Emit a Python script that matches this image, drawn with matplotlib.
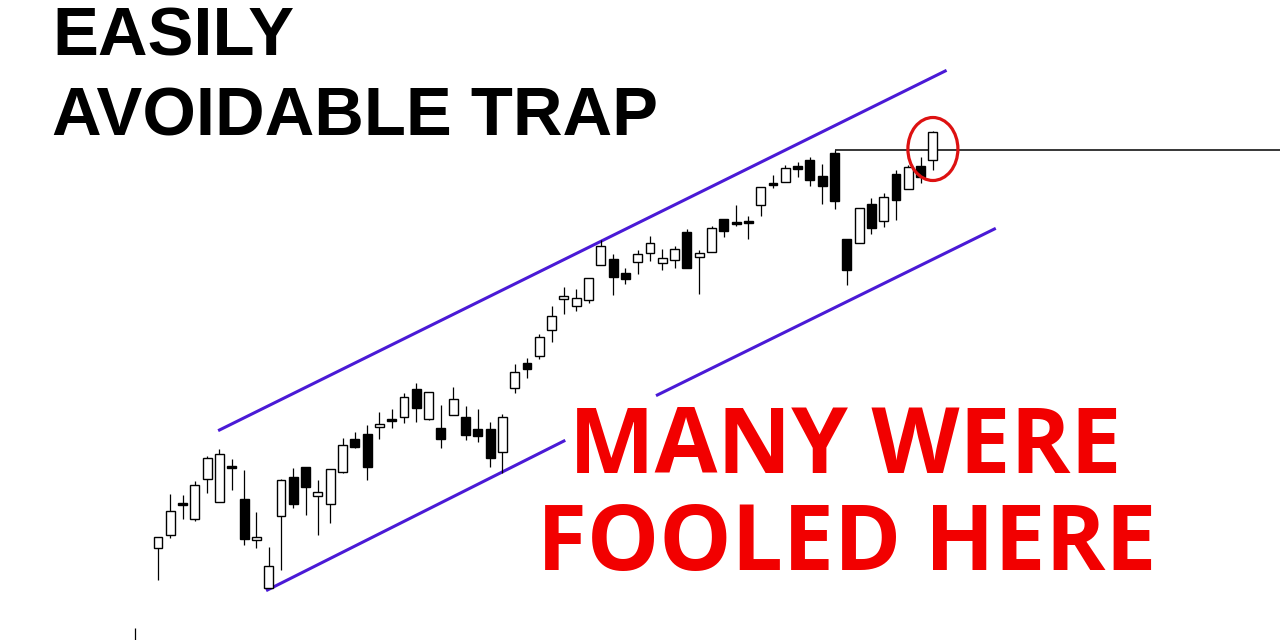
import numpy as np
import matplotlib.pyplot as plt
from matplotlib.patches import Ellipse

# candle data (price units, one bar per session)
opens = [92, 105, 137, 121, 161, 138, 174, 141, 100, 52,
         124, 163, 173, 144, 136, 168, 201, 206, 213, 221,
         223, 251, 221, 212, 225, 223, 211, 211, 188, 252,
         277, 284, 310, 341, 334, 340, 375, 381, 367, 378,
         387, 377, 380, 408, 383, 388, 421, 418, 419, 435,
         457, 458, 474, 480, 464, 487, 401, 397, 436, 419,
         466, 451, 474, 480]
highs = [103, 146, 145, 159, 184, 191, 181, 170, 128, 93,
         161, 172, 173, 160, 171, 202, 208, 215, 228, 231,
         247, 257, 248, 235, 253, 234, 231, 218, 226, 276,
         282, 306, 334, 353, 351, 362, 400, 386, 372, 390,
         404, 391, 394, 411, 390, 414, 421, 435, 424, 453,
         465, 475, 478, 483, 476, 490, 401, 432, 442, 447,
         470, 475, 483, 509]
lows = [60, 102, 121, 119, 147, 138, 150, 95, 92, 52,
        70, 132, 125, 105, 117, 167, 192, 160, 201, 212,
        217, 218, 220, 192, 225, 200, 198, 173, 167, 247,
        262, 281, 298, 326, 329, 337, 375, 345, 356, 366,
        379, 370, 372, 372, 346, 388, 403, 414, 401, 424,
        452, 458, 463, 454, 436, 431, 355, 397, 406, 413,
        420, 451, 457, 470]
closes = [103, 129, 135, 155, 182, 186, 172, 101, 103, 74,
          160, 136, 153, 148, 171, 195, 193, 173, 216, 219,
          243, 232, 248, 201, 241, 205, 204, 182, 223, 268,
          271, 303, 324, 344, 342, 362, 394, 363, 361, 386,
          397, 382, 391, 372, 387, 412, 409, 416, 417, 453,
          455, 472, 471, 460, 454, 439, 370, 432, 412, 443,
          440, 473, 463, 508]

# channel lines and resistance level (bar index, price)
upper_x = [5.0, 64.0]
upper_y = [210, 569]
lower1_x = [8.9, 33.0]
lower1_y = [50, 199]
lower2_x = [40.6, 68.0]
lower2_y = [245, 411]
resistance_start = 55
resistance_level = 490
trap_bar = 63

# pixel mapping: bar i sits at 158 + 12.3*i px
step = 12.3
x0 = 158
xmin = -x0 / step
xmax = (1280 - x0) / step

fig = plt.figure(figsize=(12.8, 6.4), dpi=100)
ax = fig.add_axes([0, 0, 1, 1])
ax.set_xlim(xmin, xmax)
ax.set_ylim(0, 640)
ax.axis("off")

idx = np.arange(len(opens))
o = np.array(opens)
c = np.array(closes)
up = c >= o

# wicks
ax.vlines(idx, lows, highs, color="black", linewidth=0.9, zorder=2)

# bodies
bottom = np.minimum(o, c)
height = np.maximum(np.abs(c - o), 1.5)
ax.bar(idx[up], height[up], bottom=bottom[up], width=0.72,
       color="white", edgecolor="black", linewidth=1.0, zorder=3)
ax.bar(idx[~up], height[~up], bottom=bottom[~up], width=0.72,
       color="black", edgecolor="black", linewidth=1.0, zorder=3)

# channel
chan_color = "#4a1ad6"
ax.plot(upper_x, upper_y, color=chan_color, linewidth=2.2, zorder=1)
ax.plot(lower1_x, lower1_y, color=chan_color, linewidth=2.2, zorder=1)
ax.plot(lower2_x, lower2_y, color=chan_color, linewidth=2.2, zorder=1)

# previous high
ax.hlines(resistance_level, resistance_start, xmax, color="black", linewidth=1.1, zorder=2)

# circle the breakout candle
ax.add_patch(Ellipse((trap_bar, 491), width=50 / step, height=63,
                     fill=False, edgecolor="#dd1111", linewidth=2.3, zorder=4))

# stray axis tick bottom left
ax.vlines((135 - x0) / step, 0, 12, color="black", linewidth=0.9)

# titles
fig.text(52 / 1280, 1 - 55 / 640, "EASILY", fontsize=49.5, fontweight="bold",
         family="Liberation Sans", color="black", va="baseline", ha="left")
fig.text(52 / 1280, 1 - 135 / 640, "AVOIDABLE TRAP", fontsize=49.5, fontweight="bold",
         family="Liberation Sans", color="black", va="baseline", ha="left")

fig.text(845 / 1280, 1 - 473 / 640, "MANY WERE", fontsize=65.5, fontweight="bold",
         family="Open Sans", color="#f20000", va="baseline", ha="center")
fig.text(847 / 1280, 1 - 570 / 640, "FOOLED HERE", fontsize=65.5, fontweight="bold",
         family="Open Sans", color="#f20000", va="baseline", ha="center")

fig.savefig("out.png", dpi=100, facecolor="white")
